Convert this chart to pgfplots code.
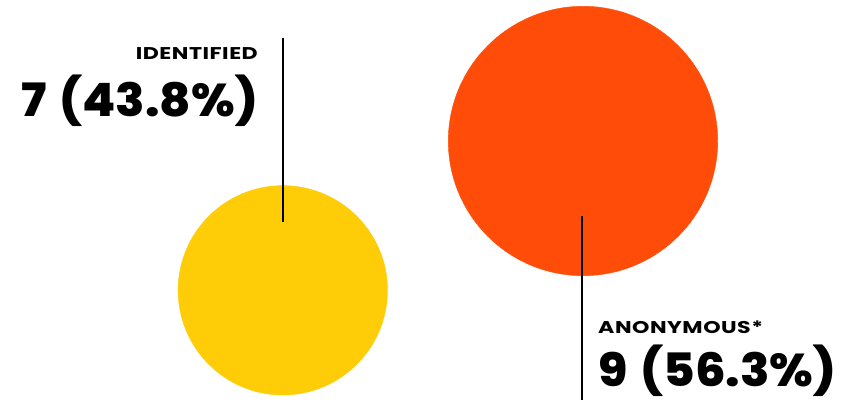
\documentclass[border=0pt]{standalone}
\usepackage{pgfplots}
\pgfplotsset{compat=1.18}
\usepackage{fontspec}
\setmainfont{Poppins}
\newfontfamily\heavy{Poppins}[UprightFont=* ExtraBold, FakeStretch=1.05]
\newfontfamily\heavywide{Poppins}[UprightFont=* Bold, FakeStretch=1.3, LetterSpace=3]
\definecolor{yel}{HTML}{FFCC08}
\definecolor{org}{HTML}{FF4C08}
\begin{document}
\begin{tikzpicture}
\begin{axis}[
  at={(0,0)}, anchor=south west,
  width=845pt, height=399pt, scale only axis,
  xmin=0, xmax=845, ymin=0, ymax=399,
  axis lines=none, clip=false, clip marker paths=true,
]
% bubbles: radius proportional to count (7 and 9)
\addplot[only marks, mark=*, mark size=104.7pt, draw=none, fill=yel, color=yel] coordinates {(282.8,108.7)};
\addplot[only marks, mark=*, mark size=134.7pt, draw=none, fill=org, color=org] coordinates {(583,258)};
% leader lines
\addplot[black, line width=2pt] coordinates {(283,361) (283,177)};
\addplot[black, line width=2pt] coordinates {(581.5,182.5) (581.5,-2)};
\node[anchor=base east, inner sep=0] at (axis cs:258,339) {\fontsize{17}{20}\selectfont\heavywide IDENTIFIED};
\node[anchor=base east, inner sep=0] at (axis cs:258,282) {\fontsize{46}{52}\selectfont\heavy 7\hspace{4pt} (43.8\%)};
\node[anchor=base west, inner sep=0] at (axis cs:598,66) {\fontsize{17}{20}\selectfont\heavywide ANONYMOUS*};
\node[anchor=base west, inner sep=0] at (axis cs:598,13) {\fontsize{46}{52}\selectfont\heavy 9\hspace{4pt} (56.3\%)};
\end{axis}
\pgfresetboundingbox
\useasboundingbox (0,0) rectangle (845pt,399pt);
\end{tikzpicture}
\end{document}
